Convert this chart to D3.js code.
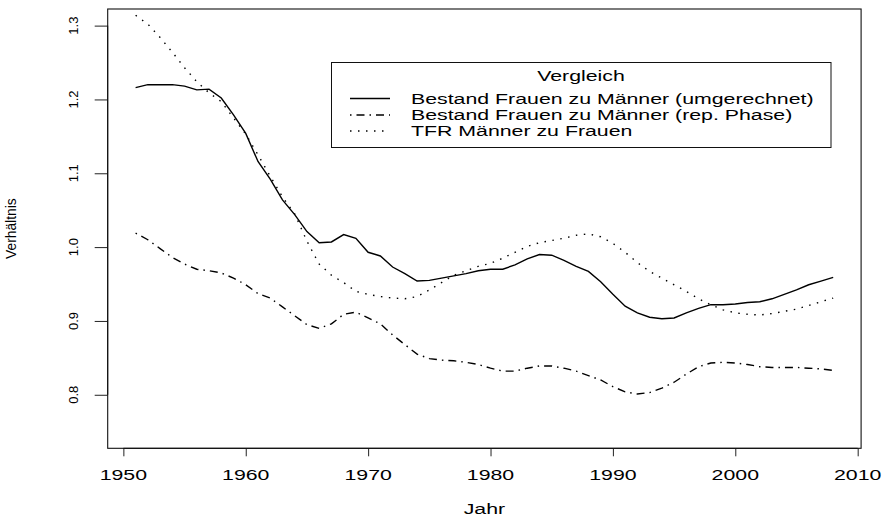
<!DOCTYPE html>
<html>
<head>
<meta charset="utf-8">
<script src="https://cdn.jsdelivr.net/npm/d3@7/dist/d3.min.js"></script>
<style>
  html, body { margin: 0; padding: 0; background: #fff; }
  svg { display: block; }
  text { font-family: "Liberation Sans", Arial, Helvetica, sans-serif; fill: #000; }
</style>
</head>
<body>
<div id="chart"></div>
<script>
// years of the series
const years = [
  1951, 1952, 1953, 1954, 1955, 1956, 1957, 1958, 1959, 1960,
  1961, 1962, 1963, 1964, 1965, 1966, 1967, 1968, 1969, 1970,
  1971, 1972, 1973, 1974, 1975, 1976, 1977, 1978, 1979, 1980,
  1981, 1982, 1983, 1984, 1985, 1986, 1987, 1988, 1989, 1990,
  1991, 1992, 1993, 1994, 1995, 1996, 1997, 1998, 1999, 2000,
  2001, 2002, 2003, 2004, 2005, 2006, 2007, 2008
];

// Bestand Frauen zu Männer (umgerechnet)
const bestandUmgerechnet = [
  1.216, 1.220, 1.220, 1.220, 1.218, 1.213, 1.214, 1.202, 1.179, 1.154,
  1.116, 1.092, 1.064, 1.044, 1.021, 1.006, 1.007, 1.017, 1.012, 0.993,
  0.988, 0.973, 0.964, 0.954, 0.955, 0.958, 0.961, 0.964, 0.968, 0.970,
  0.970, 0.976, 0.984, 0.990, 0.989, 0.982, 0.974, 0.967, 0.953, 0.936,
  0.920, 0.911, 0.905, 0.903, 0.904, 0.911, 0.917, 0.922, 0.922, 0.923,
  0.925, 0.926, 0.930, 0.936, 0.942, 0.949, 0.954, 0.959
];

// Bestand Frauen zu Männer (rep. Phase)
const bestandRepPhase = [
  1.019, 1.010, 0.998, 0.986, 0.977, 0.970, 0.968, 0.965, 0.958, 0.949,
  0.937, 0.931, 0.919, 0.907, 0.895, 0.890, 0.896, 0.909, 0.912, 0.904,
  0.896, 0.881, 0.868, 0.855, 0.849, 0.847, 0.846, 0.844, 0.841, 0.836,
  0.832, 0.832, 0.836, 0.839, 0.839, 0.836, 0.832, 0.826, 0.820, 0.811,
  0.804, 0.801, 0.803, 0.809, 0.817, 0.828, 0.838, 0.843, 0.844, 0.843,
  0.841, 0.838, 0.837, 0.837, 0.837, 0.836, 0.835, 0.833
];

// TFR Männer zu Frauen
const tfrMaennerFrauen = [
  1.314, 1.302, 1.284, 1.264, 1.243, 1.224, 1.209, 1.197, 1.175, 1.153,
  1.125, 1.096, 1.068, 1.045, 1.008, 0.977, 0.962, 0.952, 0.940, 0.936,
  0.933, 0.931, 0.930, 0.933, 0.942, 0.952, 0.962, 0.968, 0.974, 0.978,
  0.985, 0.993, 1.001, 1.006, 1.009, 1.012, 1.016, 1.018, 1.014, 1.005,
  0.993, 0.979, 0.967, 0.958, 0.949, 0.940, 0.930, 0.922, 0.915, 0.911,
  0.909, 0.908, 0.910, 0.913, 0.916, 0.921, 0.926, 0.931
];

const xTicks = [1950, 1960, 1970, 1980, 1990, 2000, 2010];
const yTicks = [0.8, 0.9, 1.0, 1.1, 1.2, 1.3];
const yTickLabels = ['0.8', '0.9', '1.0', '1.1', '1.2', '1.3'];

const legendTitle = 'Vergleich';
const seriesNames = [
  'Bestand Frauen zu Männer (umgerechnet)',
  'Bestand Frauen zu Männer (rep. Phase)',
  'TFR Männer zu Frauen'
];

const chart = (() => {
    const W = 887, H = 520;
    const BOX = {left: 107.7, right: 861.1, top: 9, bottom: 448.3};
    const STRETCH = 1.45;   // horizontal text in the reference is wider than tall
    const DASH = ['none', '1.5,5,8,5', '1.5,6.5'];
    let svg;

    const hText = (g, x, y, str, size, anchor) => {
        return g.append('text')
            .attr('transform', `translate(${x},${y}) scale(${STRETCH},1)`)
            .attr('text-anchor', anchor || 'middle')
            .style('font-size', `${size}px`)
            .text(str);
    };

    const draw = () => {
        svg = d3.select('#chart').append('svg')
            .attr('width', W)
            .attr('height', H);

        // R style 4% padding round the data range
        const x = d3.scaleLinear().domain([1948.72, 2010.28]).range([BOX.left, BOX.right]);
        const y = d3.scaleLinear().domain([0.7275, 1.3225]).range([BOX.bottom, BOX.top]);

        // x axis
        const xAxis = svg.append('g')
            .attr('transform', `translate(0,${BOX.bottom})`)
            .call(d3.axisBottom(x).tickValues(xTicks).tickSize(8).tickFormat(''));
        xAxis.select('.domain')
            .attr('d', `M${x(xTicks[0])},0H${x(xTicks[xTicks.length - 1])}`)
            .attr('stroke', '#000');
        xAxis.selectAll('.tick line').attr('stroke', '#222');
        xTicks.forEach(t => hText(svg, x(t), 479.5, String(t), 14.7));

        // y axis
        const yAxis = svg.append('g')
            .attr('transform', `translate(${BOX.left},0)`)
            .call(d3.axisLeft(y).tickValues(yTicks).tickSize(13).tickFormat(''));
        yAxis.select('.domain')
            .attr('d', `M0,${y(yTicks[0])}V${y(yTicks[yTicks.length - 1])}`)
            .attr('stroke', '#000');
        yAxis.selectAll('.tick line').attr('stroke', '#222');
        yTicks.forEach((t, i) => {
            svg.append('text')
                .attr('transform', `translate(78,${y(t)}) rotate(-90)`)
                .attr('text-anchor', 'middle')
                .style('font-size', '13px')
                .text(yTickLabels[i]);
        });

        // box
        svg.append('rect')
            .attr('x', BOX.left)
            .attr('y', BOX.top)
            .attr('width', BOX.right - BOX.left)
            .attr('height', BOX.bottom - BOX.top)
            .attr('fill', 'none')
            .attr('stroke', '#111')
            .attr('stroke-width', 1.1);

        // axis titles
        hText(svg, (BOX.left + BOX.right) / 2, 513.5, 'Jahr', 14.7);
        svg.append('text')
            .attr('transform', `translate(16,${(BOX.top + BOX.bottom) / 2}) rotate(-90)`)
            .attr('text-anchor', 'middle')
            .style('font-size', '13.8px')
            .text('Verhältnis');

        // lines
        const line = d3.line()
            .x((d, i) => x(years[i]))
            .y(d => y(d));

        [bestandUmgerechnet, bestandRepPhase, tfrMaennerFrauen].forEach((s, k) => {
            svg.append('path')
                .datum(s)
                .attr('d', line)
                .attr('fill', 'none')
                .attr('stroke', '#000')
                .attr('stroke-width', 1.4)
                .attr('stroke-dasharray', DASH[k]);
        });

        // legend
        const lg = svg.append('g');
        lg.append('rect')
            .attr('x', 331.5).attr('y', 62.5)
            .attr('width', 499.5).attr('height', 85)
            .attr('fill', '#fff')
            .attr('stroke', '#111');
        hText(lg, 581, 81, legendTitle, 14.7);
        const rowY = [98.5, 115, 131];
        seriesNames.forEach((name, k) => {
            lg.append('line')
                .attr('x1', 350).attr('x2', 390)
                .attr('y1', rowY[k]).attr('y2', rowY[k])
                .attr('stroke', '#000')
                .attr('stroke-width', 1.4)
                .attr('stroke-dasharray', DASH[k]);
            hText(lg, 411, rowY[k] + 5.3, name, 14.7, 'start');
        });
    };

    return { draw };
})();

chart.draw();
</script>
</body>
</html>
